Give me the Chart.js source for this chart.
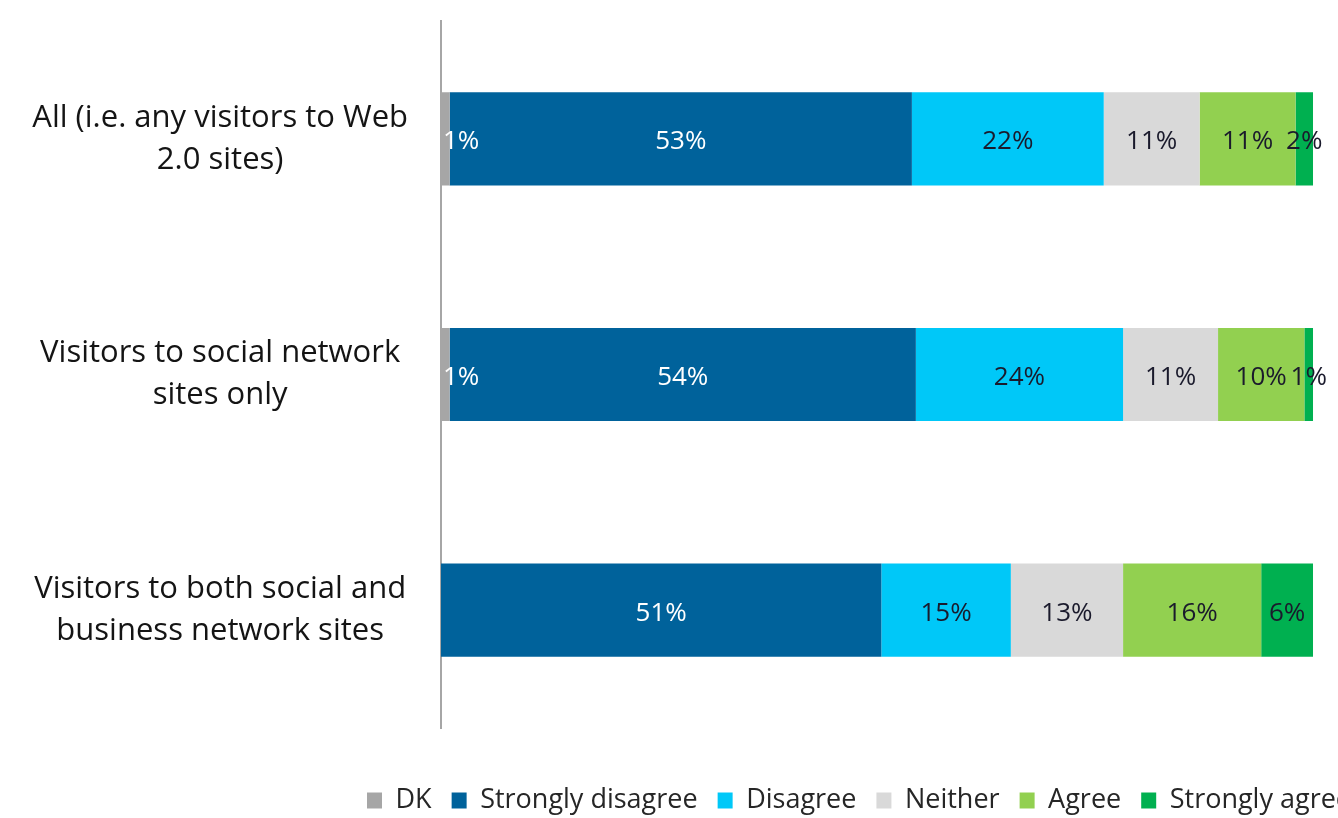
<!DOCTYPE html>
<html>
<head>
<meta charset="utf-8">
<script src="https://cdn.jsdelivr.net/npm/chart.js@4/dist/chart.umd.min.js"></script>
<style>
  html, body { margin: 0; padding: 0; background: #ffffff; overflow: hidden; }
  #wrap { position: relative; width: 1371px; height: 824px; }
</style>
</head>
<body>
<div id="wrap"><canvas id="chart"></canvas></div>
<script>
// Survey groups (multi-line axis labels)
const categories = [
  ['All (i.e. any visitors to Web', '2.0 sites)'],
  ['Visitors to social network', 'sites only'],
  ['Visitors to both social and', 'business network sites']
];

// Response shares per group, in percent
const seriesNames = ['DK', 'Strongly disagree', 'Disagree', 'Neither', 'Agree', 'Strongly agree'];
const dk               = [1, 1, 0];
const stronglyDisagree = [53, 54, 51];
const disagree         = [22, 24, 15];
const neither          = [11, 11, 13];
const agree            = [11, 10, 16];
const stronglyAgree    = [2, 1, 6];

const seriesValues = [dk, stronglyDisagree, disagree, neither, agree, stronglyAgree];
const seriesColors = ['#a6a6a6', '#00629b', '#00c8f8', '#d9d9d9', '#92d050', '#00b050'];
const labelColors  = ['#ffffff', '#ffffff', '#1a1a2c', '#1a1a2c', '#1a1a2c', '#1a1a2c'];

// 100% stacked: each group's segments are shown as shares of that group's total
const rowTotals = categories.map((_, i) => seriesValues.reduce((s, arr) => s + arr[i], 0));

const datasets = seriesNames.map((name, k) => ({
  label: name,
  raw: seriesValues[k],
  data: seriesValues[k].map((v, i) => v / rowTotals[i] * 100),
  backgroundColor: seriesColors[k],
  borderWidth: 0,
  categoryPercentage: 1,
  barPercentage: 0.395
}));

// Writes each segment's percentage in the middle of the segment
const valueLabels = {
  id: 'valueLabels',
  afterDatasetsDraw(chart) {
    const { ctx, chartArea } = chart;
    ctx.save();
    ctx.font = '26px "Open Sans"';
    ctx.textBaseline = 'middle';
    ctx.textAlign = 'center';
    chart.data.datasets.forEach((ds, k) => {
      const meta = chart.getDatasetMeta(k);
      meta.data.forEach((el, i) => {
        const v = ds.raw[i];
        if (!v) return;
        const text = v + '%';
        const w = ctx.measureText(text).width;
        let cx = (el.x + el.base) / 2;
        if (cx - w / 2 < chartArea.left + 2) cx = chartArea.left + 2 + w / 2;
        ctx.fillStyle = labelColors[k];
        ctx.fillText(text, cx, el.y + 3);
      });
    });
    ctx.restore();
  }
};

new Chart(document.getElementById('chart'), {
  type: 'bar',
  data: { labels: categories, datasets },
  plugins: [valueLabels],
  options: {
    indexAxis: 'y',
    responsive: true,
    maintainAspectRatio: false,
    animation: false,
    layout: { padding: { top: 21, right: 0, bottom: 0, left: 0 } },
    scales: {
      x: {
        stacked: true,
        min: 0,
        max: 106.65,
        display: true,
        grid: { display: false },
        border: { display: false },
        ticks: { display: false },
        afterFit(scale) { scale.height = 39; }
      },
      y: {
        stacked: true,
        grid: { display: false, drawTicks: false },
        border: { display: true, color: '#a6a6a6', width: 2 },
        ticks: {
          color: '#141414',
          font: { family: 'Open Sans', size: 31, lineHeight: 1.36 },
          padding: 33,
          crossAlign: 'center'
        },
        afterFit(scale) {
          scale.width = 441;
          scale.paddingTop = 0;
          scale.paddingBottom = 0;
        }
      }
    },
    plugins: {
      tooltip: { enabled: false },
      legend: {
        position: 'bottom',
        align: 'end',
        labels: {
          boxWidth: 15,
          boxHeight: 16,
          padding: 20,
          color: '#262626',
          font: { family: 'Open Sans', size: 27 }
        }
      }
    }
  }
});
</script>
</body>
</html>
